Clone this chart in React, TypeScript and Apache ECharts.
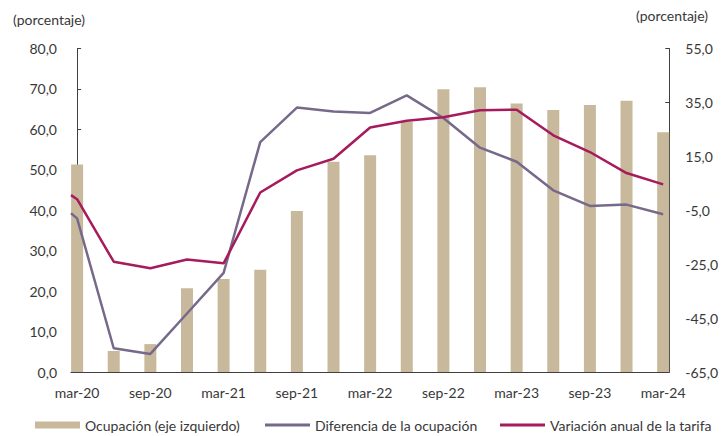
import React, { useEffect, useRef } from "react";
import * as echarts from "echarts";

// Month names used to build the monthly category axis (mar-20 .. mar-24)
const MONTH_NAMES = ["ene", "feb", "mar", "abr", "may", "jun", "jul", "ago", "sep", "oct", "nov", "dic"];
const START_MONTH = 2; // mar
const START_YEAR = 20;
const N_MONTHS = 49;

// Quarterly readings, mar-20 .. mar-24 (17 quarters)
const ocupacion = [51.3, 5.2, 6.9, 20.7, 23.0, 25.3, 39.8, 52.0, 53.6, 61.9, 69.9, 70.4, 66.4, 64.8, 66.0, 67.1, 59.3];
const diferencia = [-8.0, -56.2, -58.3, -43.3, -28.2, 20.3, 33.1, 31.6, 31.1, 37.6, 29.2, 18.2, 13.0, 2.4, -3.4, -2.9, -6.5];
const tarifa = [-0.9, -24.1, -26.5, -23.3, -24.7, 1.6, 9.8, 14.1, 25.7, 28.2, 29.5, 32.1, 32.3, 22.8, 16.6, 8.8, 4.6];
// values where both lines enter the plot at its left edge
const diferenciaEdge = -6.1;
const tarifaEdge = 0.6;

const SERIES_NAMES = ["Ocupación (eje izquierdo)", "Diferencia de la ocupación", "Variación anual de la tarifa"];

const COLORS = { bar: "#c9b99c", purple: "#76698a", red: "#a61b5c", text: "#383838", axis: "#404040" };
const FONT = "Lato, 'Liberation Sans', sans-serif";

const categories: string[] = [];
for (let i = 0; i < N_MONTHS; i++) {
  const m = (START_MONTH + i) % 12;
  const y = START_YEAR + Math.floor((START_MONTH + i) / 12);
  categories.push(`${MONTH_NAMES[m]}-${y}`);
}

const fmt = (v: number) => v.toFixed(1).replace(".", ",");

export default function App() {
  const ref = useRef<HTMLDivElement>(null);
  useEffect(() => {
    if (!ref.current) return;
    const chart = echarts.init(ref.current, undefined, { renderer: "svg" });
    const barData = categories.map((_, i) => (i % 3 === 0 ? ocupacion[i / 3] : null));
    const toLine = (vals: number[], edge: number) => [[-0.5, edge], ...vals.map((v, q) => [q * 3, v])];
    const legendBase = {
      orient: "horizontal",
      top: 418,
      padding: 0,
      itemWidth: 45,
      icon: "rect",
      textStyle: { fontFamily: FONT, fontSize: 14, color: COLORS.text },
    };
    chart.setOption({
      animation: false,
      grid: { left: 71, right: 49, top: 48.5, bottom: 64 },
      graphic: [
        { type: "text", left: 13, top: 12, style: { text: "(porcentaje)", font: `14px ${FONT}`, fill: COLORS.text } },
        { type: "text", left: 636, top: 8, style: { text: "(porcentaje)", font: `14px ${FONT}`, fill: COLORS.text } },
      ],
      legend: [
        { ...legendBase, left: 35, itemHeight: 7, data: [SERIES_NAMES[0]] },
        { ...legendBase, left: 265, itemHeight: 3, data: [SERIES_NAMES[1]] },
        { ...legendBase, left: 500, itemHeight: 3, data: [SERIES_NAMES[2]] },
      ],
      xAxis: [
        {
          type: "category",
          data: categories,
          boundaryGap: true,
          axisLine: { lineStyle: { color: COLORS.axis, width: 1 } },
          axisTick: { inside: true, length: 5, interval: 5, lineStyle: { color: COLORS.axis } },
          axisLabel: { interval: 5, margin: 13, color: COLORS.text, fontFamily: FONT, fontSize: 14 },
          splitLine: { show: false },
        },
        { type: "value", min: -0.5, max: 48.5, show: false },
      ],
      yAxis: [
        {
          type: "value",
          min: 0,
          max: 80,
          interval: 10,
          axisLine: { show: true, lineStyle: { color: COLORS.axis } },
          axisTick: { show: true, inside: true, length: 4, lineStyle: { color: COLORS.axis } },
          axisLabel: { formatter: fmt, margin: 14, color: COLORS.text, fontFamily: FONT, fontSize: 14 },
          splitLine: { show: false },
        },
        {
          type: "value",
          min: -65,
          max: 55,
          interval: 20,
          position: "right",
          axisLine: { show: true, lineStyle: { color: COLORS.axis } },
          axisTick: { show: true, inside: true, length: 4, lineStyle: { color: COLORS.axis } },
          axisLabel: { formatter: fmt, margin: 16, color: COLORS.text, fontFamily: FONT, fontSize: 14 },
          splitLine: { show: false },
        },
      ],
      series: [
        {
          name: SERIES_NAMES[0],
          type: "bar",
          xAxisIndex: 0,
          yAxisIndex: 0,
          data: barData,
          barWidth: 12,
          itemStyle: { color: COLORS.bar },
        },
        {
          name: SERIES_NAMES[1],
          type: "line",
          xAxisIndex: 1,
          yAxisIndex: 1,
          data: toLine(diferencia, diferenciaEdge),
          showSymbol: false,
          symbol: "none",
          lineStyle: { color: COLORS.purple, width: 2.5 },
          itemStyle: { color: COLORS.purple },
        },
        {
          name: SERIES_NAMES[2],
          type: "line",
          xAxisIndex: 1,
          yAxisIndex: 1,
          data: toLine(tarifa, tarifaEdge),
          showSymbol: false,
          symbol: "none",
          lineStyle: { color: COLORS.red, width: 2.5 },
          itemStyle: { color: COLORS.red },
        },
      ],
    });
    return () => chart.dispose();
  }, []);
  return <div ref={ref} style={{ width: 721, height: 436, position: "absolute", left: 0, top: 0 }} />;
}
